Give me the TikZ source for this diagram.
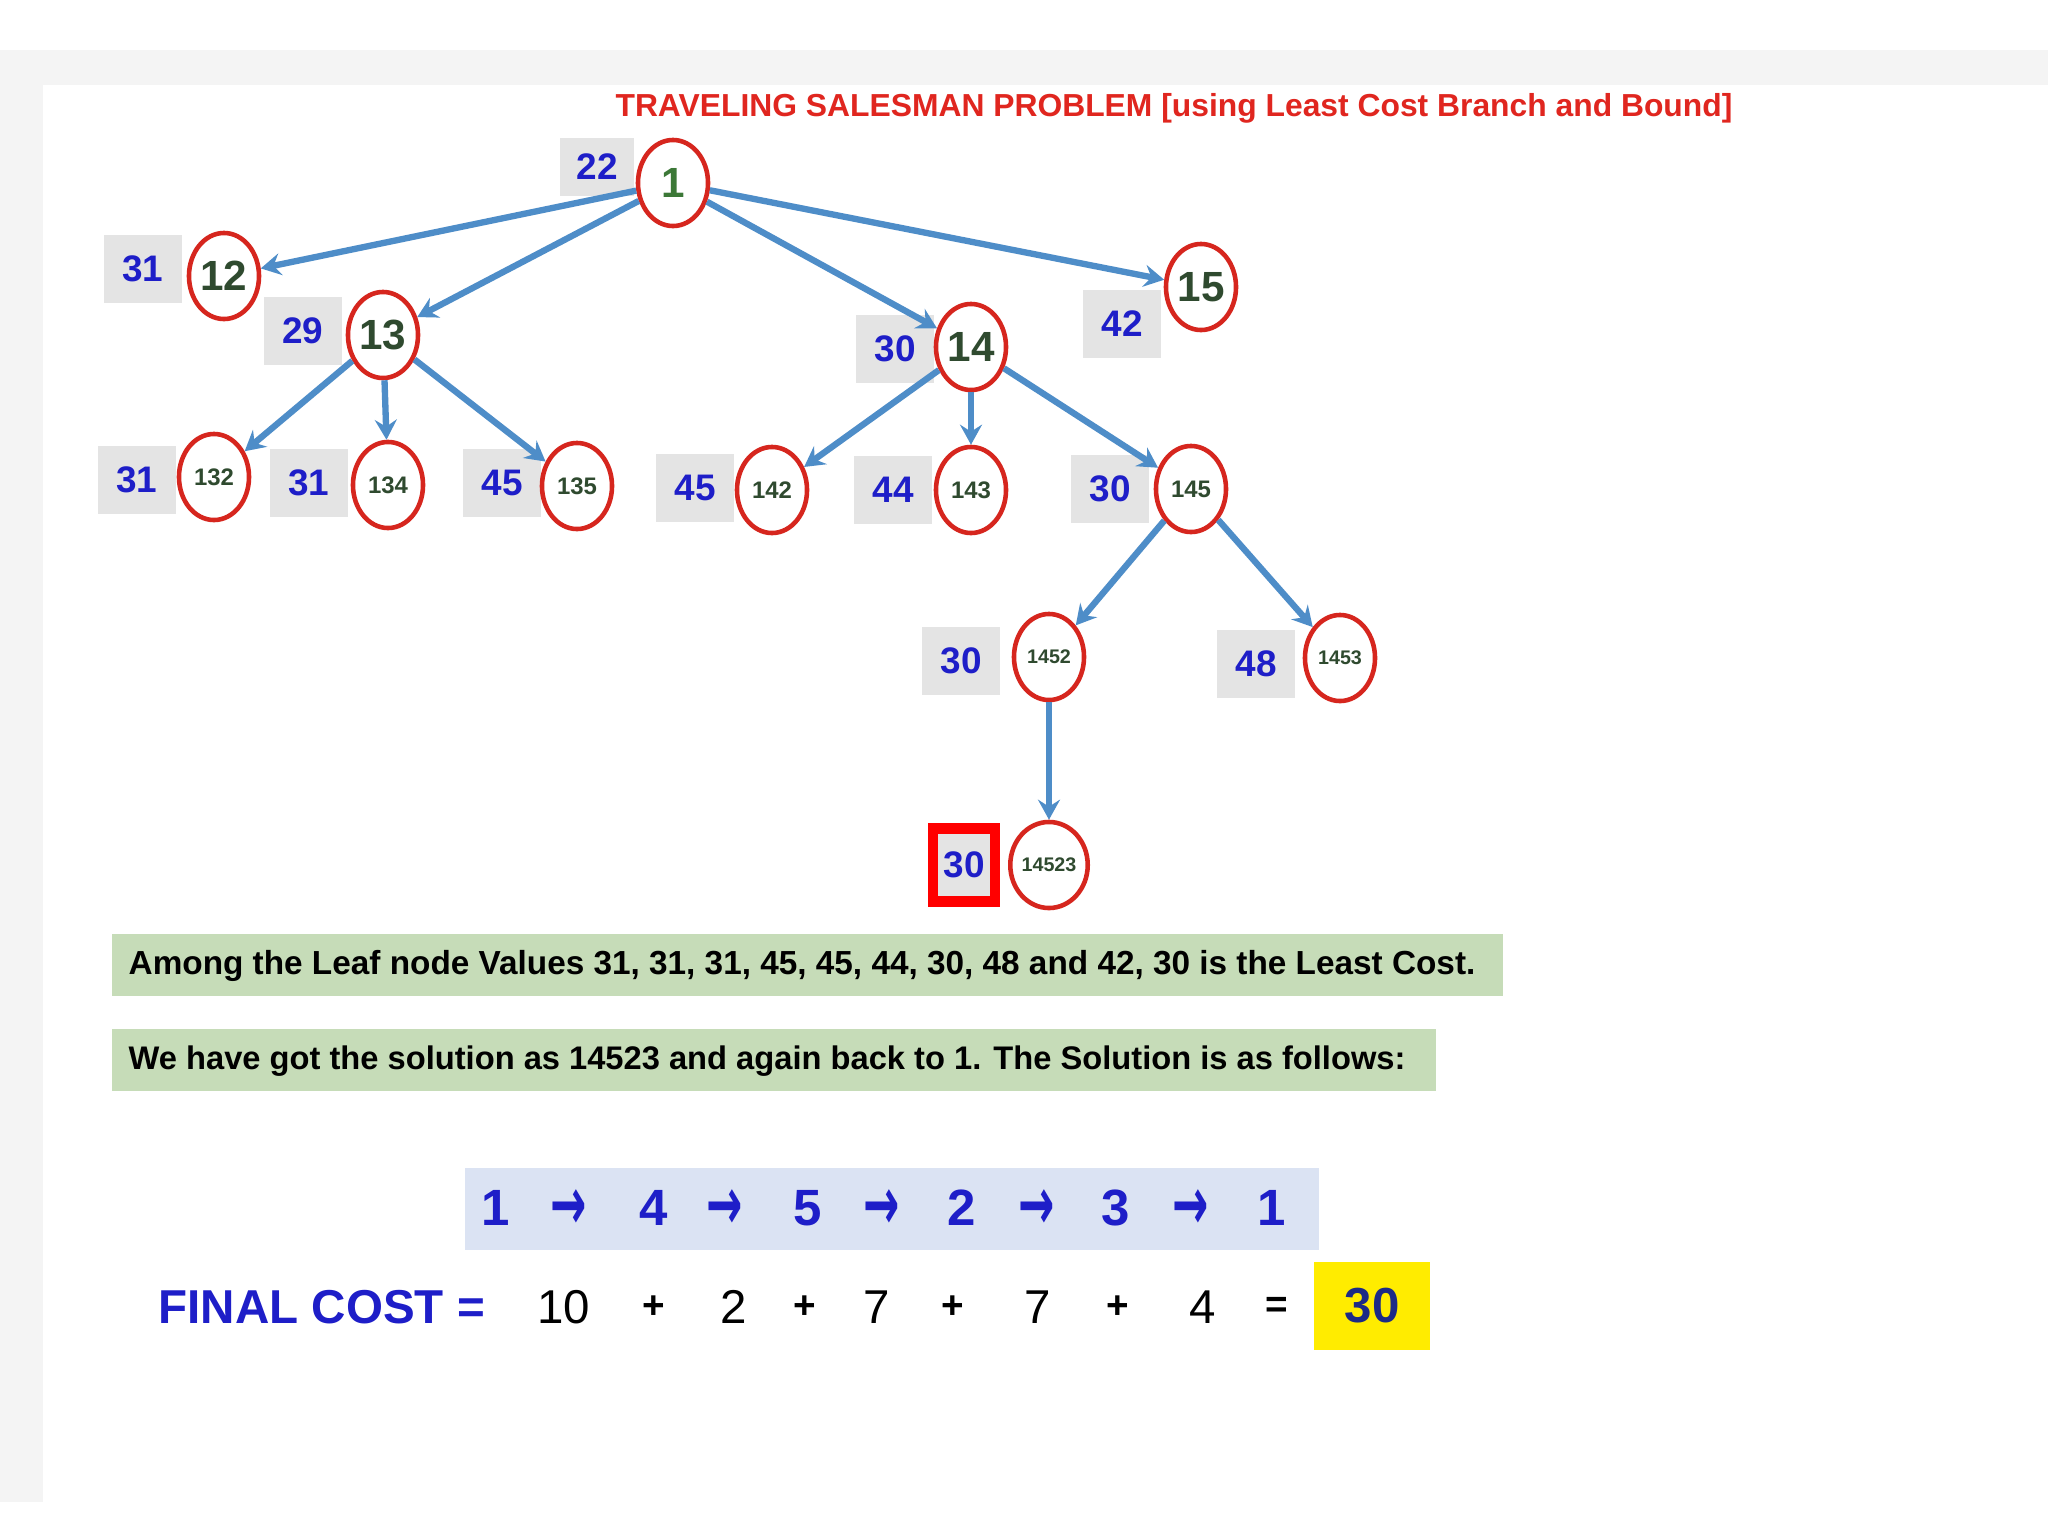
\documentclass[tikz,border=0pt]{standalone}
\usepackage{fontspec}
\setmainfont{Liberation Sans}
\newfontfamily\arrowfont{DejaVu Sans}
\usetikzlibrary{arrows.meta,shapes.geometric}
\definecolor{bggray}{RGB}{244,244,244}
\definecolor{arrowblue}{RGB}{78,141,200}
\definecolor{nodered}{RGB}{214,38,30}
\definecolor{nodegreen}{RGB}{47,74,47}
\definecolor{rootgreen}{RGB}{60,120,55}
\definecolor{costblue}{RGB}{30,30,200}
\definecolor{boxgray}{RGB}{228,228,228}
\definecolor{titlered}{RGB}{224,38,31}
\definecolor{notegreen}{RGB}{198,220,184}
\definecolor{pathbox}{RGB}{219,227,243}
\definecolor{finalyellow}{RGB}{255,236,0}
\definecolor{navy}{RGB}{28,42,134}
\tikzset{
  tnode/.style={ellipse, draw=nodered, line width=1.3pt, minimum width=0.70cm, minimum height=0.86cm, inner sep=0pt, text=nodegreen},
  bignum/.style={font=\bfseries\fontsize{12}{13}\selectfont},
  midnum/.style={font=\bfseries\fontsize{6.8}{7}\selectfont},
  smallnum/.style={font=\bfseries\fontsize{5.6}{6}\selectfont},
  costbox/.style={fill=boxgray, minimum width=0.77cm, minimum height=0.67cm, inner sep=0pt, text=costblue, font=\bfseries\fontsize{10.5}{11}\selectfont},
  conn/.style={draw=arrowblue, line width=1.8pt, -{Stealth[length=0.2cm,width=0.22cm,inset=0.07cm]}},
  notebox/.style={fill=notegreen, anchor=west, inner sep=0pt, minimum height=0.62cm, text=black},
  pathitem/.style={text=costblue, font=\bfseries\fontsize{14.5}{15}\selectfont},
  patharrow/.style={text=costblue, font=\arrowfont\bfseries\fontsize{14.5}{15}\selectfont},
  sumitem/.style={text=black, font=\fontsize{13.5}{14}\selectfont},
  sumop/.style={text=black, font=\bfseries\fontsize{11}{12}\selectfont}
}
\newcommand{\tallarrow}{\scalebox{0.85}[1.45]{→}}
\begin{document}
\begin{tikzpicture}[x=0.01cm,y=-0.01cm]
\useasboundingbox (0,0) rectangle (2048,1536);
\fill[white] (0,0) rectangle (2048,1536);
\fill[bggray] (0,50) rectangle (2048,1502);
\fill[white] (43,85) rectangle (2048,1502);

% title
\node[text=titlered, font=\bfseries\fontsize{9.05}{10}\selectfont] (title) at (1174,108) {TRAVELING SALESMAN PROBLEM [using Least Cost Branch and Bound]};

% cost boxes
\node[costbox, minimum width=0.74cm, minimum height=0.58cm] (c1) at (597,167) {22};
\node[costbox] (c12) at (143,269) {31};
\node[costbox] (c13) at (303,331) {29};
\node[costbox] (c14) at (895,349) {30};
\node[costbox] (c15) at (1122,324) {42};
\node[costbox] (c132) at (137,480) {31};
\node[costbox] (c134) at (309,483) {31};
\node[costbox] (c135) at (502,483) {45};
\node[costbox] (c142) at (695,488) {45};
\node[costbox] (c143) at (893,490) {44};
\node[costbox] (c145) at (1110,489) {30};
\node[costbox] (c1452) at (961,661) {30};
\node[costbox] (c1453) at (1256,664) {48};
\node[costbox, draw=red, line width=3pt, minimum width=0.62cm, minimum height=0.73cm] (c14523) at (964,865) {30};

% tree nodes
\node[tnode, bignum, text=rootgreen] (n1) at (673,183) {1};
\node[tnode, bignum] (n12) at (224,276) {12};
\node[tnode, bignum] (n13) at (383,335) {13};
\node[tnode, bignum] (n14) at (971,347) {14};
\node[tnode, bignum] (n15) at (1201,287) {15};
\node[tnode, midnum] (n132) at (214,477) {132};
\node[tnode, midnum] (n134) at (388,485) {134};
\node[tnode, midnum] (n135) at (577,486) {135};
\node[tnode, midnum] (n142) at (772,490) {142};
\node[tnode, midnum] (n143) at (971,490) {143};
\node[tnode, midnum] (n145) at (1191,489) {145};
\node[tnode, smallnum] (n1452) at (1049,657) {1452};
\node[tnode, smallnum] (n1453) at (1340,658) {1453};
\node[tnode, smallnum] (n14523) at (1049,865) {14523};

% connectors
\draw[conn] (n1) -- (n12);
\draw[conn] (n1) -- (n13);
\draw[conn] (n1) -- (n14);
\draw[conn] (n1) -- (n15);
\draw[conn] (n13) -- (n132);
\draw[conn] (n13) -- (n134);
\draw[conn] (n13) -- (n135);
\draw[conn] (n14) -- (n142);
\draw[conn] (n14) -- (n143);
\draw[conn] (n14) -- (n145);
\draw[conn] (n145) -- (n1452);
\draw[conn] (n145) -- (n1453);
\draw[conn] (n1452) -- (n14523);

% notes
\node[notebox, minimum width=13.90cm] (note1) at (111,965) {};
\node[anchor=west, inner sep=0pt] (note1t) at (128,966) {\resizebox{13.46cm}{!}{\bfseries Among the Leaf node Values 31, 31, 31, 45, 45, 44, 30, 48 and 42, 30 is the Least Cost.}};
\node[notebox, minimum width=13.24cm] (note2) at (111,1060) {};
\node[anchor=west, inner sep=0pt] (note2t) at (128,1061) {\resizebox{12.76cm}{!}{\bfseries We have got the solution as 14523 and again back to 1. The Solution is as follows:}};

% path
\node[fill=pathbox, minimum width=8.53cm, minimum height=0.82cm, inner sep=0pt] (pathbg) at (892,1209) {};
\node[pathitem] (p1) at (496,1208) {1};
\node[patharrow] (a1) at (569,1210) {\tallarrow};
\node[pathitem] (p4) at (654,1208) {4};
\node[patharrow] (a2) at (725,1210) {\tallarrow};
\node[pathitem] (p5) at (808,1208) {5};
\node[patharrow] (a3) at (882,1210) {\tallarrow};
\node[pathitem] (p2) at (962,1208) {2};
\node[patharrow] (a4) at (1037,1210) {\tallarrow};
\node[pathitem] (p3) at (1116,1208) {3};
\node[patharrow] (a5) at (1191,1210) {\tallarrow};
\node[pathitem] (p6) at (1272,1208) {1};

% final cost
\node[anchor=west, inner sep=0pt, text=costblue] (fc) at (158,1307) {\resizebox{3.26cm}{!}{\bfseries FINAL COST =}};
\node[sumitem] (s10) at (564,1307) {10};
\node[sumop] (o1) at (654,1307) {+};
\node[sumitem] (s2) at (734,1307) {2};
\node[sumop] (o2) at (805,1307) {+};
\node[sumitem] (s7a) at (877,1307) {7};
\node[sumop] (o3) at (953,1307) {+};
\node[sumitem] (s7b) at (1038,1307) {7};
\node[sumop] (o4) at (1118,1307) {+};
\node[sumitem] (s4) at (1203,1307) {4};
\node[sumop] (o5) at (1277,1307) {=};
\node[fill=finalyellow, minimum width=1.15cm, minimum height=0.88cm, inner sep=0pt, text=navy, font=\bfseries\fontsize{14}{15}\selectfont] (total) at (1372,1306) {30};
\end{tikzpicture}
\end{document}
